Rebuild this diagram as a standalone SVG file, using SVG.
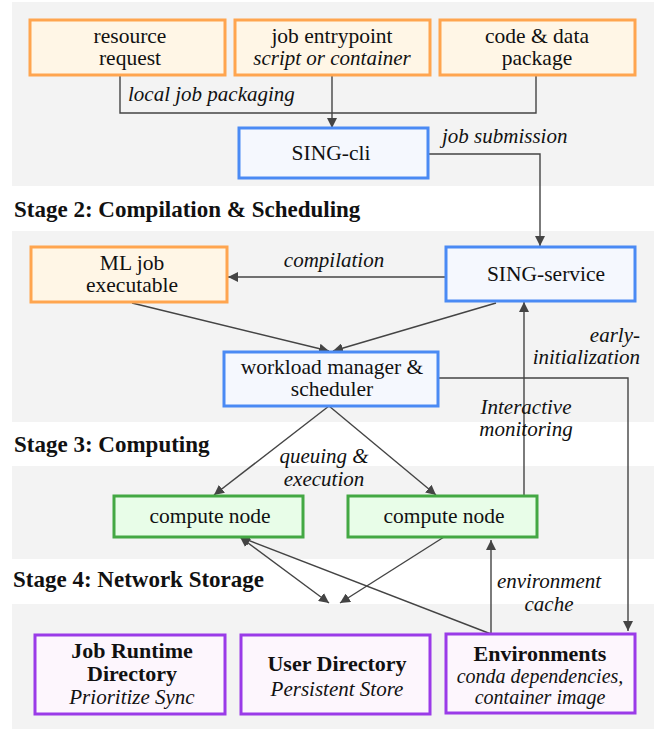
<svg xmlns="http://www.w3.org/2000/svg" width="654" height="731" viewBox="0 0 654 731">
<defs>
<marker id="ah" viewBox="0 0 10 10" refX="10" refY="5" markerWidth="10" markerHeight="10" markerUnits="userSpaceOnUse" orient="auto-start-reverse">
<path d="M0,0 L10,5 L0,10 Z" fill="#444"/>
</marker>
</defs>
<style>
.panel{fill:#f3f3f3}
.box{stroke-width:3}
.or{fill:#fff6e6;stroke:#ffa54f}
.bl{fill:#f5f8fe;stroke:#4a8af4}
.gr{fill:#e8fde8;stroke:#43a843}
.pu{fill:#fdf6fd;stroke:#9a3be8}
text{font-size:21.5px;fill:#111;text-anchor:middle}
.it{font-style:italic;font-size:21px}
.b{font-weight:bold;font-size:22px}
.hd{font-weight:bold;text-anchor:start;font-size:23px}
.lab{font-style:italic;font-size:21px}
.sm{font-size:20px}
.c{fill:none;stroke:#444;stroke-width:1.4}
</style>
<g font-family="Liberation Serif, DejaVu Serif, serif">
<g id="panels">
<rect class="panel" x="12" y="2" width="642" height="184"/>
<rect class="panel" x="12" y="231" width="642" height="191"/>
<rect class="panel" x="12" y="466" width="642" height="93"/>
<rect class="panel" x="12" y="604" width="642" height="125"/>
</g>
<g id="headers">
<text class="hd" x="14" y="217">Stage 2: Compilation &amp; Scheduling</text>
<text class="hd" x="14" y="452">Stage 3: Computing</text>
<text class="hd" x="13" y="587">Stage 4: Network Storage</text>
</g>
<g id="connectors">
<path class="c" d="M120,75 V113 H536 V75"/>
<path class="c" d="M332,75 V128" marker-end="url(#ah)"/>
<path class="c" d="M428,154 H540 V246" marker-end="url(#ah)"/>
<path class="c" d="M446,277 H228" marker-end="url(#ah)"/>
<path class="c" d="M132,303 L329,351" marker-end="url(#ah)"/>
<path class="c" d="M496,303 L333,351" marker-end="url(#ah)"/>
<path class="c" d="M438,378 H628 V631" marker-end="url(#ah)"/>
<path class="c" d="M524,496 V302" marker-end="url(#ah)"/>
<path class="c" d="M329,406 L214,495" marker-end="url(#ah)"/>
<path class="c" d="M329,406 L436,495" marker-end="url(#ah)"/>
<path class="c" d="M240,537 L329,603" marker-start="url(#ah)" marker-end="url(#ah)"/>
<path class="c" d="M444,537 L340,603" marker-end="url(#ah)"/>
<path class="c" d="M491,634 L240,537" marker-end="url(#ah)"/>
<path class="c" d="M491,634 V540" marker-end="url(#ah)"/>
</g>
<g id="labels">
<text class="lab" x="128" y="101" style="text-anchor:start">local job packaging</text>
<text class="lab" x="442" y="143" style="text-anchor:start">job submission</text>
<text class="lab" x="334" y="267">compilation</text>
<text class="lab" x="640" y="342" style="text-anchor:end">early-</text>
<text class="lab" x="640" y="364" style="text-anchor:end">initialization</text>
<text class="lab" x="526" y="414">Interactive</text>
<text class="lab" x="526" y="436">monitoring</text>
<text class="lab" x="324" y="463">queuing &amp;</text>
<text class="lab" x="324" y="486">execution</text>
<text class="lab" x="549" y="588">environment</text>
<text class="lab" x="549" y="611">cache</text>
</g>
<g id="resource-request">
<rect class="box or" x="30" y="20" width="195" height="55"/>
<text x="130" y="43">resource</text>
<text x="130" y="65">request</text>
</g>
<g id="job-entrypoint">
<rect class="box or" x="235" y="20" width="195" height="55"/>
<text x="332" y="43">job entrypoint</text>
<text class="it" x="332" y="65">script or container</text>
</g>
<g id="code-data">
<rect class="box or" x="440" y="20" width="195" height="55"/>
<text x="537" y="43">code &amp; data</text>
<text x="537" y="65">package</text>
</g>
<g id="sing-cli">
<rect class="box bl" x="239" y="128" width="189" height="50"/>
<text x="331" y="160">SING-cli</text>
</g>
<g id="ml-job">
<rect class="box or" x="31" y="247" width="196" height="55"/>
<text x="132" y="270">ML job</text>
<text x="132" y="292">executable</text>
</g>
<g id="sing-service">
<rect class="box bl" x="446" y="247" width="189" height="54"/>
<text x="546" y="281">SING-service</text>
</g>
<g id="workload-manager">
<rect class="box bl" x="224" y="352" width="214" height="54"/>
<text x="332" y="374">workload manager &amp;</text>
<text x="332" y="396">scheduler</text>
</g>
<g id="compute-node-1">
<rect class="box gr" x="114" y="496" width="189" height="41"/>
<text x="210" y="523">compute node</text>
</g>
<g id="compute-node-2">
<rect class="box gr" x="348" y="496" width="189" height="41"/>
<text x="444" y="523">compute node</text>
</g>
<g id="job-runtime">
<rect class="box pu" x="35" y="635" width="190" height="79"/>
<text class="b" x="132" y="658">Job Runtime</text>
<text class="b" x="132" y="681">Directory</text>
<text class="it" x="132" y="704">Prioritize Sync</text>
</g>
<g id="user-directory">
<rect class="box pu" x="241" y="635" width="189" height="79"/>
<text class="b" x="337" y="671">User Directory</text>
<text class="it" x="337" y="696">Persistent Store</text>
</g>
<g id="environments">
<rect class="box pu" x="446" y="634" width="189" height="79"/>
<text class="b" x="540" y="661">Environments</text>
<text class="it sm" x="540" y="683">conda dependencies,</text>
<text class="it sm" x="540" y="704">container image</text>
</g>
</g>
</svg>
